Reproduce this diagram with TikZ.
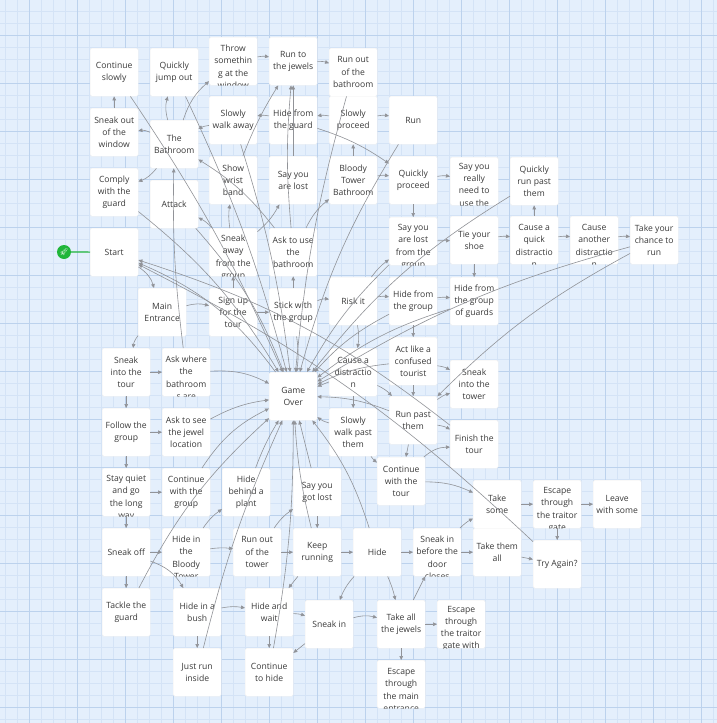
\documentclass[tikz,border=0pt]{standalone}
\usepackage{fontspec}
\setsansfont{Open Sans}
\newfontfamily\emojifont{Noto Emoji}
\usepackage{tikz}
\usetikzlibrary{arrows.meta}
\definecolor{mapblue}{RGB}{228,239,252}
\definecolor{gridminor}{RGB}{212,227,246}
\definecolor{gridmajor}{RGB}{188,210,237}
\definecolor{linkgray}{RGB}{145,147,152}
\definecolor{startgreen}{RGB}{32,182,58}
\definecolor{cardtext}{RGB}{58,58,58}

\begin{document}
\begin{tikzpicture}[x=1pt, y=-1pt,
    psg/.style={
        fill=white, draw=black!6, rounded corners=1.5pt, anchor=north west,
        minimum width=48pt, minimum height=48pt, inner sep=1pt, align=center,
        font=\sffamily\fontsize{8.6}{12.3}\selectfont, text=cardtext
    },
    overflow/.style={path picture={\node[anchor=north, inner sep=0pt, align=center,
        font=\sffamily\fontsize{8.6}{12.3}\selectfont, text=cardtext]
        at ([yshift=-5.5pt]path picture bounding box.north) {#1};}},
    link/.style={draw=linkgray, line width=0.6pt, -{Triangle[length=4pt, width=3.6pt]}},
    minorln/.style={draw=gridminor, line width=0.4pt},
    majorln/.style={draw=gridmajor, line width=0.6pt}
]
\useasboundingbox (0,0) rectangle (717,723);
\fill[mapblue] (0,0) rectangle (717,723);
\foreach \x in {5,17,...,713} \draw[minorln] (\x,0) -- (\x,723);
\foreach \y in {11,23,...,719} \draw[minorln] (0,\y) -- (717,\y);
\foreach \x in {29,77,...,701} \draw[majorln] (\x,0) -- (\x,723);
\foreach \y in {35,83,...,707} \draw[majorln] (0,\y) -- (717,\y);

% top: the bathroom
\node[psg] (cslow)     at (90,48)   {Continue\\slowly};
\node[psg] (qjump)     at (150,48)  {Quickly\\jump out};
\node[psg, overflow={Throw\\somethin\\g at the\\window}] (throw) at (209,37) {};
\node[psg] (runjew)    at (269,37)  {Run to\\the jewels};
\node[psg] (runbath)   at (329,48)  {Run out\\of the\\bathroom};
\node[psg] (sneakwin)  at (90,108)  {Sneak out\\of the\\window};
\node[psg] (bath)      at (150,120) {The\\Bathroom};
\node[psg] (walkaway)  at (209,96)  {Slowly\\walk away};
\node[psg] (hideguard) at (269,96)  {Hide from\\the guard};
\node[psg] (slowproc)  at (329,96)  {Slowly\\proceed};
\node[psg] (run)       at (389,96)  {Run};
\node[psg] (comply)    at (90,168)  {Comply\\with the\\guard};
\node[psg] (attack)    at (150,180) {Attack};
\node[psg] (wrist)     at (209,156) {Show\\wrist\\band};
\node[psg] (saylost)   at (269,156) {Say you\\are lost};
\node[psg] (btbath)    at (329,156) {Bloody\\Tower\\Bathroom};
\node[psg] (qproc)     at (389,156) {Quickly\\proceed};
\node[psg, overflow={Say you\\really\\need to\\use the\\bathroom}] (needbath) at (450,157) {};
\node[psg] (qrunpast)  at (510,157) {Quickly\\run past\\them};

% middle: the tour
\node[psg] (start)     at (90,228)  {Start};
\node[psg, overflow={Sneak\\away\\from the\\group}] (sneakaway) at (209,228) {};
\node[psg] (askuse)    at (269,228) {Ask to use\\the\\bathroom};
\node[psg, overflow={Say you\\are lost\\from the\\group}] (lostgroup) at (389,217) {};
\node[psg] (tieshoe)   at (450,216) {Tie your\\shoe};
\node[psg, overflow={Cause a\\quick\\distractio\\n}] (qdistr) at (510,216) {};
\node[psg, overflow={Cause\\another\\distractio\\n}] (anodistr) at (570,216) {};
\node[psg] (chance)    at (630,216) {Take your\\chance to\\run};
\node[psg] (mainent)   at (138,288) {Main\\Entrance};
\node[psg] (signup)    at (209,288) {Sign up\\for the\\tour};
\node[psg] (stick)     at (269,288) {Stick with\\the group};
\node[psg] (riskit)    at (329,277) {Risk it};
\node[psg] (hidegroup) at (389,277) {Hide from\\the group};
\node[psg] (hideguards) at (450,277) {Hide from\\the group\\of guards};
\node[psg] (sneaktour) at (102,348) {Sneak\\into the\\tour};
\node[psg, overflow={Ask where\\the\\bathroom\\s are}] (askwhere) at (162,348) {};
\node[psg] (gameover)  at (269,372) {Game\\Over};
\node[psg] (distr)     at (329,348) {Cause a\\distractio\\n};
\node[psg] (confused)  at (389,337) {Act like a\\confused\\tourist};
\node[psg] (sneaktower) at (450,360) {Sneak\\into the\\tower};
\node[psg] (follow)    at (102,408) {Follow the\\group};
\node[psg] (askjewel)  at (162,408) {Ask to see\\the jewel\\location};
\node[psg] (walkpast)  at (329,408) {Slowly\\walk past\\them};
\node[psg] (runpast)   at (389,396) {Run past\\them};
\node[psg] (finish)    at (450,420) {Finish the\\tour};

% bottom: the tower
\node[psg, overflow={Stay quiet\\and go\\the long\\way}] (quiet) at (102,468) {};
\node[psg] (contgroup) at (162,468) {Continue\\with the\\group};
\node[psg] (plant)     at (222,468) {Hide\\behind a\\plant};
\node[psg] (gotlost)   at (293,468) {Say you\\got lost};
\node[psg] (conttour)  at (377,457) {Continue\\with the\\tour};
\node[psg] (takesome)  at (473,480) {Take\\some};
\node[psg, overflow={Escape\\through\\the traitor\\gate}] (traitor) at (533,480) {};
\node[psg] (leave)     at (593,480) {Leave\\with some};
\node[psg] (takeall)   at (473,528) {Take them\\all};
\node[psg] (tryagain)  at (533,540) {Try Again?};
\node[psg] (sneakoff)  at (102,528) {Sneak off};
\node[psg, overflow={Hide in\\the\\Bloody\\Tower}] (hidetower) at (162,528) {};
\node[psg] (runtower)  at (233,528) {Run out\\of the\\tower};
\node[psg] (keeprun)   at (293,528) {Keep\\running};
\node[psg] (hide)      at (353,528) {Hide};
\node[psg, overflow={Sneak in\\before the\\door\\closes}] (beforedoor) at (413,528) {};
\node[psg] (tackle)    at (102,588) {Tackle the\\guard};
\node[psg] (bush)      at (173,588) {Hide in a\\bush};
\node[psg] (hidewait)  at (245,588) {Hide and\\wait};
\node[psg] (sneakin)   at (305,600) {Sneak in};
\node[psg] (alljewels) at (377,600) {Take all\\the jewels};
\node[psg, overflow={Escape\\through\\the traitor\\gate with\\the jewels}] (traitorwith) at (437,600) {};
\node[psg] (justrun)   at (173,648) {Just run\\inside};
\node[psg] (conthide)  at (245,648) {Continue\\to hide};
\node[psg, overflow={Escape\\through\\the main\\entrance}] (mainexit) at (377,660) {};

\node[circle, fill=startgreen, minimum size=14pt, inner sep=0pt, text=white,
    font=\emojifont\fontsize{7}{7}\selectfont] (launch) at (64,252) {🚀};
\draw[startgreen, line width=1.2pt] (launch) -- (start);

% links
\draw[link] (start) to[bend left=20] (mainent);
\draw[link] (mainent) to[bend right=15] (sneaktour);
\draw[link] (mainent) to[bend left=15] (signup);
\draw[link] (signup) -- (stick);
\draw[link] (signup) -- (sneakaway);
\draw[link] (stick) -- (askuse);
\draw[link] (stick) to[bend left=15] (riskit);
\draw[link] (stick) to[bend left=8] (gameover);
\draw[link] (askuse) to[bend right=10] (bath);
\draw[link] (askuse) to[bend left=12] (btbath);
\draw[link] (sneakaway) to[bend left=8] (wrist);
\draw[link] (sneakaway) to[bend right=10] (saylost);
\draw[link] (sneakaway) to[bend right=10] (attack);
\draw[link] (bath) to[bend right=15] (sneakwin);
\draw[link] (bath) to[bend left=15] (comply);
\draw[link] (bath) to[bend left=15] (qjump);
\draw[link] (bath) to[bend left=15] (throw);
\draw[link] (sneakwin) -- (cslow);
\draw[link] (walkaway) to[bend right=10] (bath);
\draw[link] (hideguard) to[bend right=10] (walkaway);
\draw[link] (slowproc) to[bend right=10] (hideguard);
\draw[link] (slowproc) to[bend left=10] (run);
\draw[link] (btbath) -- (slowproc);
\draw[link] (btbath) to[bend left=10] (qproc);
\draw[link] (qproc) to[bend left=10] (needbath);
\draw[link] (qproc) -- (lostgroup);
\draw[link] (throw) to[bend left=10] (runjew);
\draw[link] (runjew) to[bend left=10] (runbath);
\draw[link] (wrist) to[bend left=5] (runjew);
\draw[link] (saylost) -- (runjew);
\draw[link] (askuse) to[bend left=5] (runjew);
\draw[link] (hideguard) to[bend left=8] (qproc);
\draw[link] (riskit) to[bend left=10] (hidegroup);
\draw[link] (riskit) to[bend left=10] (distr);
\draw[link] (riskit) to[bend left=8] (lostgroup);
\draw[link] (lostgroup) -- (tieshoe);
\draw[link] (tieshoe) to[bend left=8] (qdistr);
\draw[link] (tieshoe) -- (hideguards);
\draw[link] (qdistr) -- (qrunpast);
\draw[link] (qdistr) to[bend left=8] (anodistr);
\draw[link] (anodistr) to[bend left=8] (chance);
\draw[link] (hidegroup) -- (confused);
\draw[link] (hidegroup) to[bend left=8] (hideguards);
\draw[link] (confused) to[bend left=10] (sneaktower);
\draw[link] (confused) -- (runpast);
\draw[link] (distr) -- (walkpast);
\draw[link] (distr) to[bend left=10] (runpast);
\draw[link] (runpast) to[bend left=10] (sneaktower);
\draw[link] (runpast) -- (conttour);
\draw[link] (runpast) to[bend left=10] (finish);
\draw[link] (walkpast) to[bend right=8] (conttour);
\draw[link] (conttour) to[bend left=20] (finish);
\draw[link] (conttour) to[bend left=12] (takesome);
\draw[link] (takesome) -- (traitor);
\draw[link] (traitor) -- (leave);
\draw[link] (traitor) -- (tryagain);
\draw[link] (takeall) -- (tryagain);
\draw[link] (sneaktour) -- (askwhere);
\draw[link] (sneaktour) -- (follow);
\draw[link] (follow) -- (askjewel);
\draw[link] (follow) -- (quiet);
\draw[link] (quiet) -- (contgroup);
\draw[link] (quiet) -- (sneakoff);
\draw[link] (sneakoff) -- (hidetower);
\draw[link] (sneakoff) -- (tackle);
\draw[link] (sneakoff) to[bend left=20] (bush);
\draw[link] (hidetower) to[bend left=8] (runtower);
\draw[link] (hidetower) to[bend left=10] (plant);
\draw[link] (bush) to[bend left=10] (hidewait);
\draw[link] (bush) -- (justrun);
\draw[link] (hidewait) -- (conthide);
\draw[link] (hidewait) to[bend left=8] (sneakin);
\draw[link] (runtower) -- (keeprun);
\draw[link] (runtower) to[bend left=10] (gotlost);
\draw[link] (keeprun) -- (hide);
\draw[link] (gotlost) -- (keeprun);
\draw[link] (keeprun) -- (hidewait);
\draw[link] (hide) -- (beforedoor);
\draw[link] (hide) to[bend left=5] (alljewels);
\draw[link] (hide) to[bend right=10] (sneakin);
\draw[link] (beforedoor) to[bend left=8] (takesome);
\draw[link] (beforedoor) -- (takeall);
\draw[link] (sneakin) to[bend left=15] (alljewels);
\draw[link] (sneakin) -- (conthide);
\draw[link] (alljewels) -- (traitorwith);
\draw[link] (alljewels) -- (mainexit);
\draw[link] (alljewels) -- (beforedoor);
\draw[link] (askwhere) to[bend left=4] (bath);
\draw[link] (askwhere) to[bend left=15] (gameover);
\draw[link] (askjewel) to[bend left=10] (gameover);
\draw[link] (contgroup) to[bend left=15] (gameover);
\draw[link] (plant) to[bend left=5] (gameover);
\draw[link] (gotlost) -- (gameover);
\draw[link] (hide) to[bend right=10] (gameover);
\draw[link] (keeprun) to[bend left=5] (gameover);
\draw[link] (distr) -- (gameover);
\draw[link] (walkpast) to[bend left=10] (gameover);
\draw[link] (runpast) to[bend right=10] (gameover);
\draw[link] (confused) to[bend right=10] (gameover);
\draw[link] (hidegroup) to[bend right=10] (gameover);
\draw[link] (hideguards) to[bend right=10] (gameover);
\draw[link] (chance) to[bend right=8] (gameover);
\draw[link] (chance) to[bend right=8] (runpast);
\draw[link] (qrunpast) to[bend right=10] (gameover);
\draw[link] (lostgroup) to[bend right=8] (gameover);
\draw[link] (attack) to[bend left=10] (gameover);
\draw[link] (comply) to[bend left=10] (gameover);
\draw[link] (qjump) to[bend left=5] (gameover);
\draw[link] (cslow) to[bend left=5] (gameover);
\draw[link] (run) to[bend right=8] (gameover);
\draw[link] (runbath) to[bend right=5] (gameover);
\draw[link] (walkaway) to[bend left=5] (gameover);
\draw[link] (tackle) to[bend left=10] (gameover);
\draw[link] (justrun) to[bend left=5] (gameover);
\draw[link] (conthide) to[bend right=5] (gameover);
\draw[link] (gameover) to[bend right=15] (start);
\draw[link] (tryagain) to[bend right=8] (start);
\draw[link] (finish) to[bend right=10] (start);
\end{tikzpicture}
\end{document}
